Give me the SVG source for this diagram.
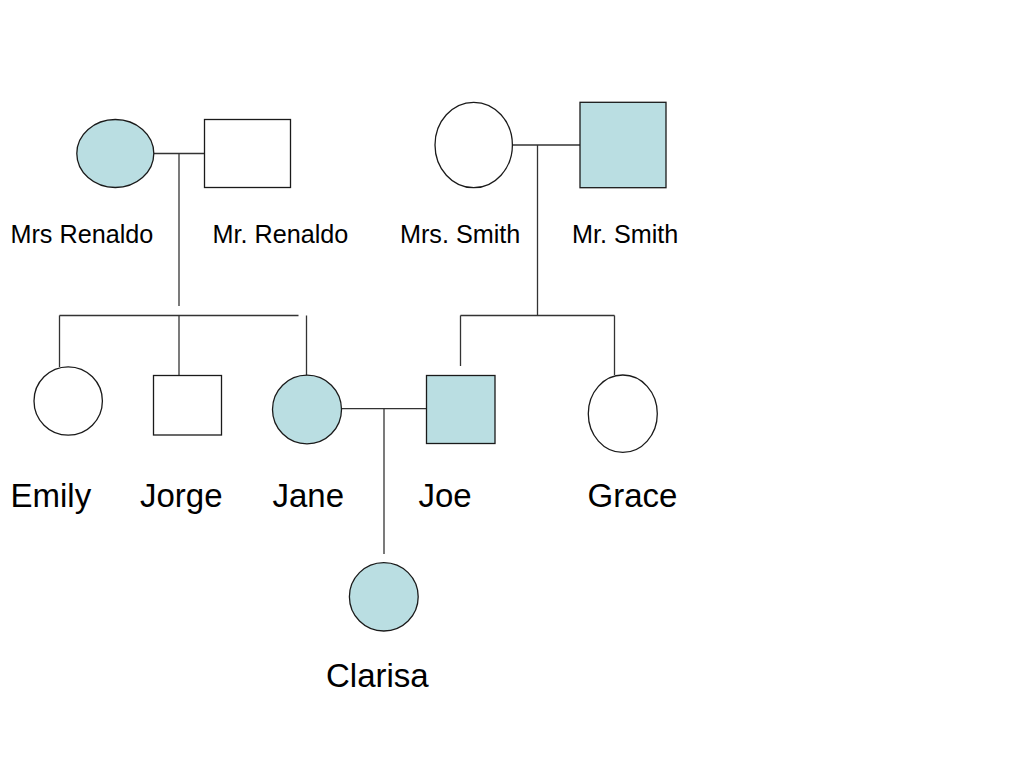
<svg xmlns="http://www.w3.org/2000/svg" width="1024" height="768" viewBox="0 0 1024 768">
<style>
.f{fill:#BADEE2;stroke:#1a1a1a;stroke-width:1.3}
.e{fill:#ffffff;stroke:#1a1a1a;stroke-width:1.3}
.c line{stroke:#333;stroke-width:1.3}
.s{font-family:"Liberation Sans",Arial,sans-serif;font-size:25.2px;fill:#000}
.b{font-family:"Liberation Sans",Arial,sans-serif;font-size:33px;fill:#000}
</style>
<rect width="1024" height="768" fill="#fff"/>
<g class="c" id="connectors">
<line x1="154" y1="153.5" x2="213.5" y2="153.5"/>
<line x1="179" y1="153.5" x2="179" y2="306"/>
<line x1="59.5" y1="315.5" x2="298.5" y2="315.5"/>
<line x1="59.5" y1="315.5" x2="59.5" y2="367"/>
<line x1="179" y1="315.5" x2="179" y2="375.5"/>
<line x1="306.5" y1="315.5" x2="306.5" y2="375.5"/>
<line x1="512" y1="145" x2="580" y2="145"/>
<line x1="537.5" y1="145" x2="537.5" y2="315.5"/>
<line x1="460.5" y1="315.5" x2="614.5" y2="315.5"/>
<line x1="460.5" y1="315.5" x2="460.5" y2="366"/>
<line x1="614.5" y1="315.5" x2="614.5" y2="375"/>
<line x1="341.5" y1="408.7" x2="426.5" y2="408.7"/>
<line x1="384" y1="408.7" x2="384" y2="554"/>
</g>
<g id="mrs-renaldo"><ellipse class="f" cx="115.3" cy="153.5" rx="38.5" ry="34"/><text class="s" x="10.5" y="243">Mrs Renaldo</text></g>
<g id="mr-renaldo"><rect class="e" x="204.5" y="119.5" width="86" height="68"/><text class="s" x="212.5" y="243">Mr. Renaldo</text></g>
<g id="mrs-smith"><ellipse class="e" cx="473.7" cy="145" rx="38.7" ry="42.7"/><text class="s" x="400" y="243">Mrs. Smith</text></g>
<g id="mr-smith"><rect class="f" x="580" y="102.3" width="86" height="85.4"/><text class="s" x="572" y="243">Mr. Smith</text></g>
<g id="emily"><ellipse class="e" cx="68.2" cy="401" rx="34.2" ry="34.2"/><text class="b" x="10.5" y="507">Emily</text></g>
<g id="jorge"><rect class="e" x="153.5" y="375.5" width="68" height="59.5"/><text class="b" x="140" y="507">Jorge</text></g>
<g id="jane"><ellipse class="f" cx="307" cy="409.5" rx="34.5" ry="34.3"/><text class="b" x="272.5" y="507">Jane</text></g>
<g id="joe"><rect class="f" x="426.5" y="375.5" width="68.5" height="68"/><text class="b" x="418.5" y="507">Joe</text></g>
<g id="grace"><ellipse class="e" cx="622.8" cy="413.7" rx="34.5" ry="38.7"/><text class="b" x="587.5" y="507">Grace</text></g>
<g id="clarisa"><ellipse class="f" cx="383.8" cy="596.8" rx="34.4" ry="34.2"/><text class="b" x="326" y="687">Clarisa</text></g>
</svg>
